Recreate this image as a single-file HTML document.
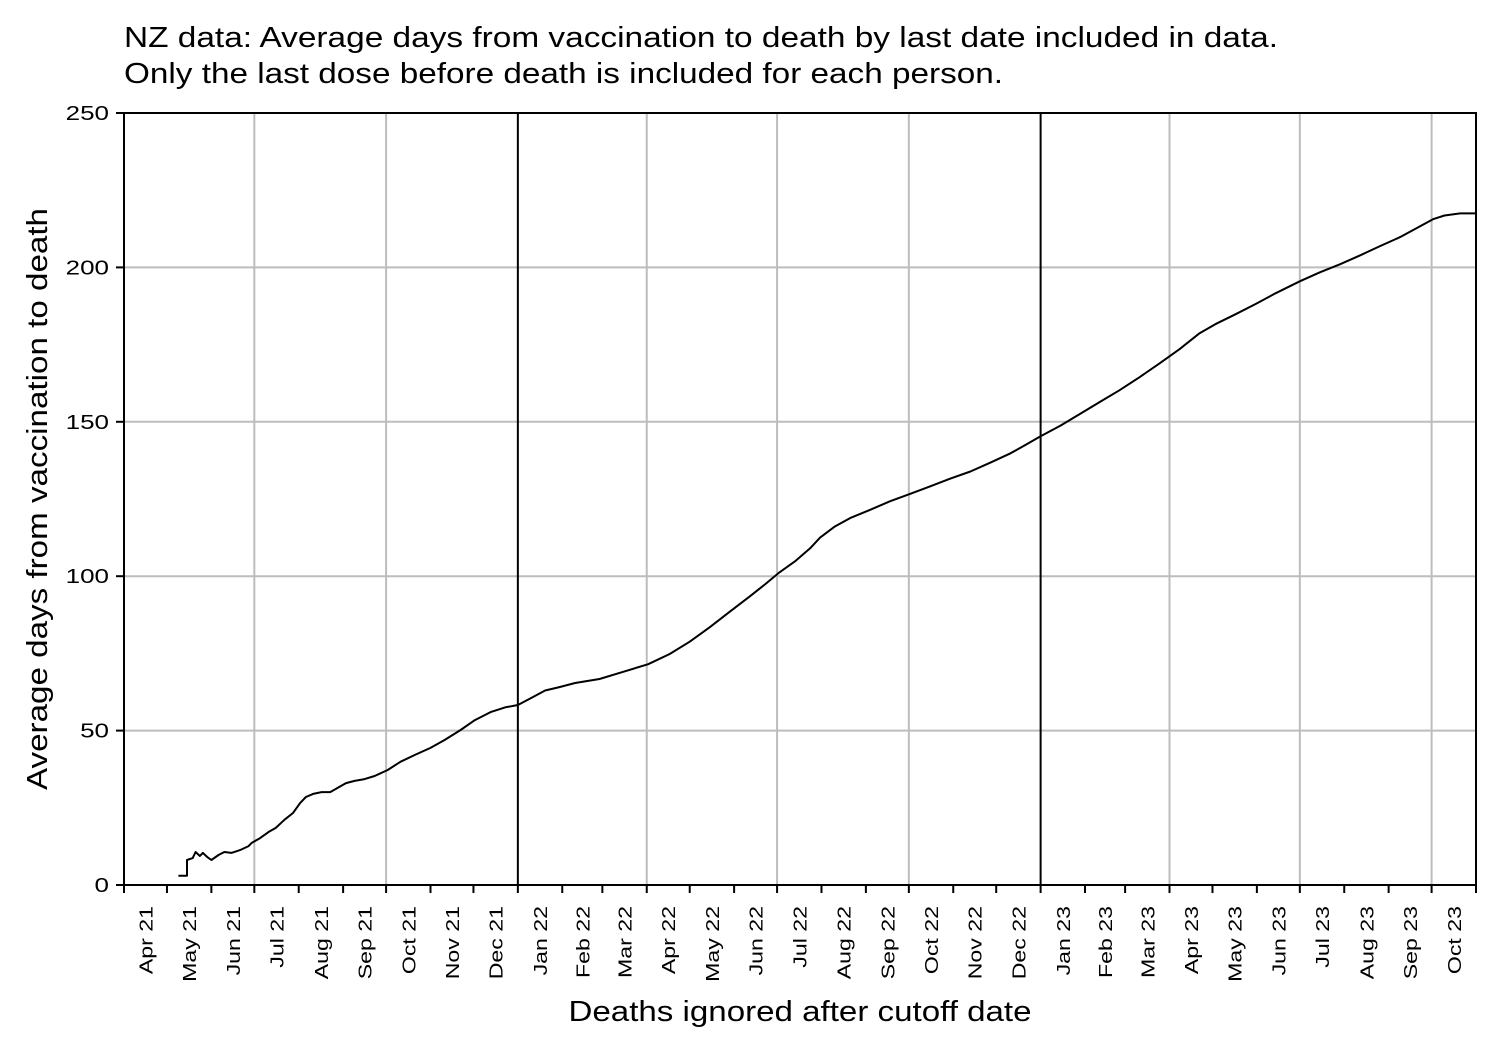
<!DOCTYPE html>
<html><head><meta charset="utf-8"><style>body{margin:0;background:#fff}svg{display:block;font-family:"Liberation Sans",Arial,sans-serif}</style></head>
<body>
<svg id="chart" width="1500" height="1050" xmlns="http://www.w3.org/2000/svg">
<rect width="1500" height="1050" fill="#fff"/>
<text x="124" y="47" font-size="29" textLength="1154" lengthAdjust="spacingAndGlyphs">NZ data: Average days from vaccination to death by last date included in data.</text>
<text x="124" y="83" font-size="29" textLength="879" lengthAdjust="spacingAndGlyphs">Only the last dose before death is included for each person.</text>
<text transform="translate(47,499) rotate(-90)" text-anchor="middle" font-size="29" textLength="582" lengthAdjust="spacingAndGlyphs">Average days from vaccination to death</text>
<text x="800" y="1021" text-anchor="middle" font-size="29" textLength="463" lengthAdjust="spacingAndGlyphs">Deaths ignored after cutoff date</text>
<g id="grid"></g><g id="axes"></g><g id="series"></g>
</svg>
<script>
const monthLabels=["Apr 21","May 21","Jun 21","Jul 21","Aug 21","Sep 21","Oct 21","Nov 21","Dec 21","Jan 22","Feb 22","Mar 22","Apr 22","May 22","Jun 22","Jul 22","Aug 22","Sep 22","Oct 22","Nov 22","Dec 22","Jan 23","Feb 23","Mar 23","Apr 23","May 23","Jun 23","Jul 23","Aug 23","Sep 23","Oct 23"];
const yTicks=[0,50,100,150,200,250];
// days since 2021-04-01
const days=[38,44,44,48,50,53,55,58,61,66,70,75,81,87,89,95,101,106,112,118,123,127,132,138,144,149,155,161,168,175,184,193,203,214,224,235,245,256,266,275,284,294,304,315,332,346,366,381,395,409,423,437,448,457,469,479,486,496,507,521,535,549,563,577,591,605,619,629,640,654,668,682,695,709,723,737,751,762,776,790,804,821,835,849,863,877,891,905,914,922,933,944];
const values=[3,3,8.1,8.7,10.7,9.4,10.4,9.1,8.1,9.7,10.7,10.4,11.3,12.6,13.6,15.2,17.2,18.5,21.1,23.3,26.6,28.5,29.5,30.1,30.1,31.4,33,33.7,34.3,35.3,37.2,39.9,42.1,44.4,47,50.2,53.4,56,57.5,58.3,60.5,63,64.1,65.4,66.7,68.7,71.5,74.8,78.8,83.5,88.5,93.5,97.5,101,105,109,112.5,116,118.8,121.5,124.3,126.7,129.1,131.6,133.9,136.8,139.8,142.4,145.3,148.8,152.7,156.6,160.2,164.4,168.9,173.5,178.7,181.6,184.8,188.1,191.6,195.5,198.4,201,203.9,206.9,209.8,213.3,215.6,216.8,217.5,217.5];
const NS="http://www.w3.org/2000/svg";
const X0=124,X1=1476,Y0=885,Y1=113,TOT=944;
const start=Date.UTC(2021,3,1);
const xs=d=>X0+(X1-X0)*d/TOT;
const ys=v=>Y0-(Y0-Y1)*v/250;
function mk(t,a,p){const e=document.createElementNS(NS,t);for(const k in a)e.setAttribute(k,a[k]);p.appendChild(e);return e;}
const grid=document.getElementById('grid'),axes=document.getElementById('axes'),series=document.getElementById('series');
yTicks.forEach(v=>{
 const l=mk('line',{x1:X0,x2:X1,y1:ys(v),y2:ys(v),stroke:'#bdbdbd','stroke-width':2},grid);
 
 
 mk('line',{x1:X0-8,x2:X0,y1:ys(v),y2:ys(v),stroke:'#000','stroke-width':2},axes);
 const t=mk('text',{x:X0-15,y:ys(v)+7,'text-anchor':'end','font-size':20,transform:`translate(${-(X0-15)*0.3},0) scale(1.3,1)`},axes);t.textContent=v;
 
 
});
for(let i=0;i<=monthLabels.length;i++){
 const d=(Date.UTC(2021,3+i,1)-start)/864e5;
 const x=xs(d);
 mk('line',{x1:x,x2:x,y1:Y0,y2:Y0+8,stroke:'#000','stroke-width':2},axes);
 if(i%3===0&&i>0&&i<monthLabels.length){
  const m=(3+i)%12;
  const g=mk('line',{x1:x,x2:x,y1:Y1,y2:Y0,stroke:m===0?'#000':'#bdbdbd','stroke-width':2},m===0?axes:grid);
  
  
 }
 if(i<monthLabels.length){
  const d2=(Date.UTC(2021,4+i,1)-start)/864e5;
  const xm=(x+xs(d2))/2;
  const t=mk('text',{transform:`translate(${xm+7},906) rotate(-90) scale(1.25,1)`,'text-anchor':'end','font-size':18.5},axes);
  t.textContent=monthLabels[i];
  
  
 }
}
const fr=mk('rect',{x:X0,y:Y1,width:X1-X0,height:Y0-Y1,fill:'none',stroke:'#000','stroke-width':2},axes);


const pts=days.map((d,i)=>xs(d).toFixed(1)+','+ys(values[i]).toFixed(1)).join(' ');
const pl=mk('polyline',{points:pts,fill:'none',stroke:'#000','stroke-width':2,'stroke-linejoin':'round'},series);


</script>
</body></html>
